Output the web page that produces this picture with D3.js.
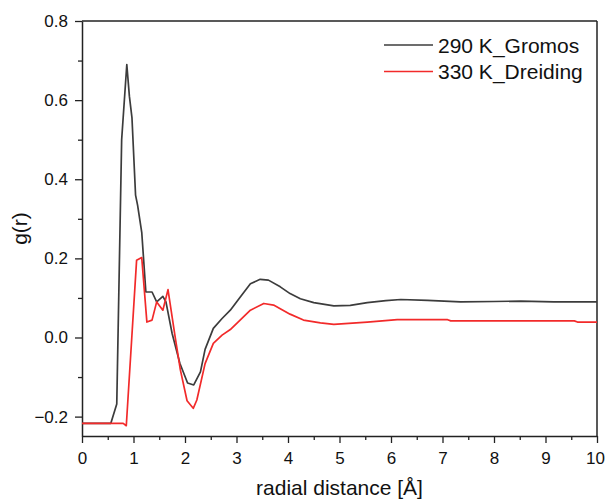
<!DOCTYPE html>
<html>
<head>
<meta charset="utf-8">
<script src="https://cdn.jsdelivr.net/npm/d3@7"></script>
<style>
  body { margin: 0; background: #fff; }
  text { font-family: Arial, "Liberation Sans", sans-serif; fill: #111; }
</style>
</head>
<body>
<svg id="chart" width="605" height="499"></svg>
<script>
// radial distribution g(r)
var grayR = [0, 0.56, 0.675, 0.77, 0.87, 0.92, 0.97, 1.04, 1.08, 1.16, 1.24, 1.36, 1.45, 1.57, 1.63, 1.75, 1.9, 2.05, 2.17, 2.3, 2.39, 2.55, 2.72, 2.88, 3.07, 3.27, 3.46, 3.62, 3.85, 4.04, 4.24, 4.5, 4.89, 5.21, 5.54, 5.9, 6.19, 6.71, 7.35, 8.0, 8.52, 9.16, 9.62, 10];
var grayG = [-0.217, -0.217, -0.168, 0.5, 0.69, 0.61, 0.556, 0.36, 0.334, 0.266, 0.115, 0.115, 0.09, 0.104, 0.09, 0.01, -0.065, -0.115, -0.12, -0.087, -0.03, 0.023, 0.048, 0.069, 0.102, 0.136, 0.147, 0.145, 0.128, 0.111, 0.098, 0.088, 0.08, 0.081, 0.088, 0.093, 0.096, 0.094, 0.09, 0.091, 0.092, 0.09, 0.09, 0.09];

var redR = [0, 0.8, 0.86, 1.06, 1.16, 1.26, 1.36, 1.45, 1.57, 1.67, 1.81, 1.91, 2.04, 2.16, 2.23, 2.39, 2.55, 2.72, 2.88, 3.07, 3.27, 3.53, 3.72, 4.04, 4.3, 4.63, 4.89, 5.54, 6.12, 7.1, 7.16, 9.56, 9.62, 10];
var redG = [-0.217, -0.217, -0.223, 0.195, 0.202, 0.039, 0.044, 0.09, 0.069, 0.121, 0.0, -0.082, -0.16, -0.179, -0.158, -0.066, -0.015, 0.006, 0.02, 0.044, 0.069, 0.086, 0.082, 0.059, 0.044, 0.037, 0.033, 0.039, 0.045, 0.045, 0.042, 0.042, 0.039, 0.039];

var seriesNames = ["290 K_Gromos", "330 K_Dreiding"];
var seriesColors = ["#3c3c3c", "#f22a2a"];

var xTicks = [0, 1, 2, 3, 4, 5, 6, 7, 8, 9, 10];
var yTicks = [-0.2, 0.0, 0.2, 0.4, 0.6, 0.8];

var margin = { top: 21, right: 8, bottom: 63, left: 82 };
var width = 605 - margin.left - margin.right;
var height = 499 - margin.top - margin.bottom;

var svg = d3.select("#chart");
var g = svg.append("g").attr("transform", `translate(${margin.left},${margin.top})`);

var x = d3.scaleLinear().domain([0, 10]).range([0, width]);
var y = d3.scaleLinear().domain([-0.249, 0.8]).range([height, 0]);

// minor ticks
var xMinor = d3.range(0.5, 10, 1);
var yMinor = [-0.1, 0.1, 0.3, 0.5, 0.7];

g.append("g")
  .attr("transform", `translate(0,${height})`)
  .call(d3.axisBottom(x).tickValues(xMinor).tickSize(4).tickFormat(""))
  .call((a) => a.select(".domain").remove());
g.append("g")
  .call(d3.axisLeft(y).tickValues(yMinor).tickSize(4).tickFormat(""))
  .call((a) => a.select(".domain").remove());

var xAxis = g.append("g")
  .attr("transform", `translate(0,${height})`)
  .call(d3.axisBottom(x).tickValues(xTicks).tickSize(7).tickSizeOuter(0).tickPadding(9).tickFormat(d3.format("d")));
var yAxis = g.append("g")
  .call(d3.axisLeft(y).tickValues(yTicks).tickSize(7).tickSizeOuter(0).tickPadding(7).tickFormat(d3.format(".1f")));

[xAxis, yAxis].forEach((a) => {
  a.selectAll("text").style("font-size", "17px").attr("fill", "#111");
  a.select(".domain").attr("stroke", "#222").attr("stroke-width", 1.5);
});
// keep the last label inside the page edge
xAxis.selectAll(".tick text").filter((d) => d === 10).attr("dx", -2);
svg.selectAll("g g.tick line").attr("stroke", "#222").attr("stroke-width", 1.3);

// frame top and right
g.append("line").attr("x1", 0).attr("x2", width).attr("y1", 0).attr("y2", 0)
  .attr("stroke", "#222").attr("stroke-width", 1.5);
g.append("line").attr("x1", width).attr("x2", width).attr("y1", 0).attr("y2", height)
  .attr("stroke", "#222").attr("stroke-width", 1.5);

var line = d3.line().x((d) => x(d[0])).y((d) => y(d[1]));

var series = [d3.zip(grayR, grayG), d3.zip(redR, redG)];
series.forEach((s, i) => {
  g.append("path")
    .datum(s)
    .attr("fill", "none")
    .attr("stroke", seriesColors[i])
    .attr("stroke-width", 1.7)
    .attr("stroke-linejoin", "round")
    .attr("d", line);
});

// legend
var legend = g.append("g").attr("transform", "translate(302,24)");
seriesNames.forEach((name, i) => {
  var row = legend.append("g").attr("transform", `translate(0,${i * 26.5})`);
  row.append("line").attr("x1", 0).attr("x2", 49).attr("y1", 0).attr("y2", 0)
    .attr("stroke", seriesColors[i]).attr("stroke-width", 1.7);
  row.append("text").attr("x", 54).attr("y", 0).attr("dy", "0.36em")
    .style("font-size", "21px").text(name);
});

// axis titles
svg.append("text")
  .attr("x", margin.left + width / 2).attr("y", 495)
  .attr("text-anchor", "middle").style("font-size", "21px")
  .text("radial distance [Å]");
svg.append("text")
  .attr("transform", `translate(27,${margin.top + height / 2}) rotate(-90)`)
  .attr("text-anchor", "middle").style("font-size", "21px")
  .text("g(r)");
</script>
</body>
</html>
